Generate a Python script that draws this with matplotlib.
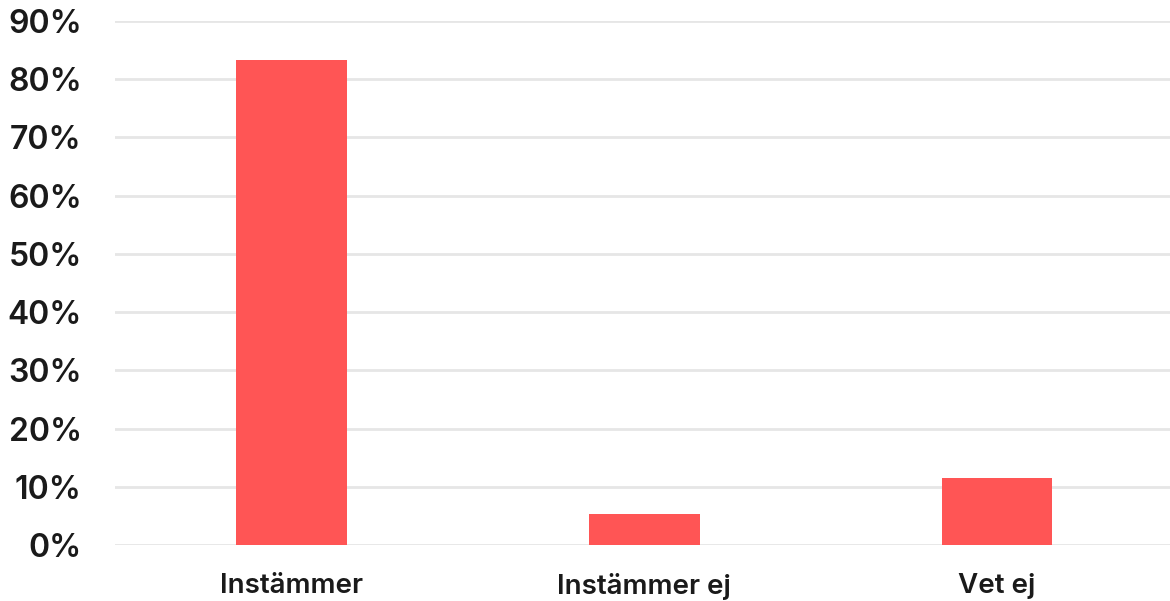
import matplotlib
matplotlib.use("Agg")
import matplotlib.pyplot as plt
from matplotlib.ticker import FuncFormatter

categories = ["Instämmer", "Instämmer ej", "Vet ej"]
values = [83.3, 5.3, 11.5]
yticks = [0, 10, 20, 30, 40, 50, 60, 70, 80, 90]

plt.rcParams['font.family'] = ['Inter', 'DejaVu Sans']

fig = plt.figure(figsize=(11.7, 6.01), dpi=100)
ax = fig.add_axes([115/1170, 56/601, 1058.5/1170, 524/601])

x = list(range(len(categories)))
ax.bar(x, values, width=0.314, color="#FF5555", zorder=3)

ax.set_xlim(-0.5, 2.5)
ax.set_ylim(0, 90)
ax.set_yticks(yticks)
ax.yaxis.set_major_formatter(FuncFormatter(lambda v, p: f"{v:.0f}%"))
ax.set_xticks(x)
ax.set_xticklabels(categories)

ax.grid(axis='y', color='#e6e6e6', linewidth=2, zorder=0)
ax.grid(axis='x', visible=False)
for s in ax.spines.values():
    s.set_visible(False)
ax.tick_params(axis='both', length=0, colors='#1a1a1a')
ax.tick_params(axis='y', labelsize=23, pad=24)
ax.tick_params(axis='x', labelsize=20, pad=20)
for lab in ax.get_yticklabels() + ax.get_xticklabels():
    lab.set_fontweight(600)

fig.savefig("out.png", dpi=100, facecolor='white')
